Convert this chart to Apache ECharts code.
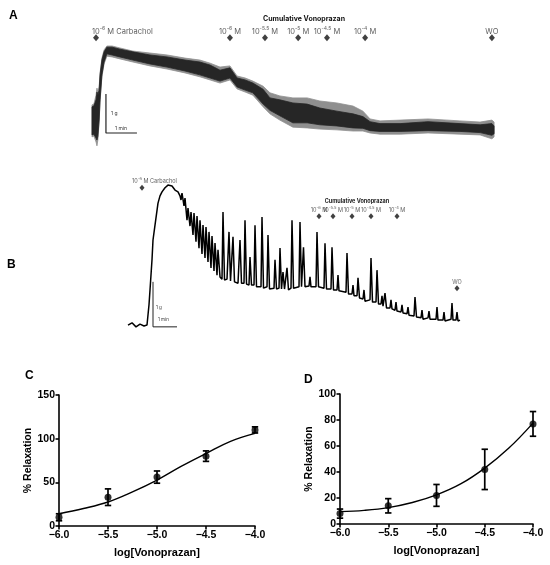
<!DOCTYPE html>
<html><head><meta charset="utf-8">
<script src="https://cdn.jsdelivr.net/npm/echarts@6/dist/echarts.min.js"></script>
<style>html,body{margin:0;padding:0;background:#fff}#c{width:550px;height:565px}</style>
</head><body><div id="c"></div>
<script>
// ---------- Panel A: force trace envelope (time in min, force in g) ----------
const aTime   = [0,0.06,0.13,0.16,0.19,0.23,0.26,0.32,0.39,0.48,0.65,0.90,1.32,1.87,2.42,3.00,3.48,3.81,4.13,4.45,4.68,4.94,5.19,5.52,5.74,6.06,6.48,6.94,7.35,7.90,8.42,8.74,8.97,9.29,9.94,10.84,11.87,12.52,12.90,12.97];
const aDarkHi = [0.85,0.87,1.03,1.23,1.15,1.28,1.67,2.05,2.26,2.38,2.38,2.33,2.26,2.18,2.13,2.05,2.00,1.92,1.79,1.85,1.59,1.54,1.46,1.30,1.08,1.03,0.95,0.92,0.82,0.74,0.67,0.60,0.47,0.42,0.42,0.47,0.42,0.39,0.42,0.36];
const aDarkLo = [0.13,0.15,0.05,0.00,0.10,0.51,1.03,1.67,2.00,2.21,2.18,2.13,2.05,1.95,1.87,1.77,1.67,1.59,1.51,1.59,1.36,1.28,1.21,0.92,0.76,0.62,0.44,0.44,0.39,0.36,0.31,0.30,0.24,0.22,0.22,0.24,0.22,0.19,0.12,0.16];
const aGrayHi = [0.90,0.92,1.15,1.33,1.23,1.36,1.72,2.10,2.31,2.41,2.41,2.36,2.28,2.23,2.18,2.10,2.05,1.97,1.87,1.90,1.64,1.59,1.51,1.38,1.21,1.13,1.08,1.08,1.00,0.95,0.87,0.74,0.54,0.49,0.51,0.54,0.49,0.46,0.51,0.46];
const aGrayLo = [0.08,0.10,-0.05,-0.15,0.00,0.46,0.97,1.62,1.95,2.15,2.13,2.08,2.00,1.90,1.82,1.72,1.62,1.54,1.46,1.54,1.31,1.23,1.15,0.85,0.67,0.51,0.33,0.31,0.28,0.26,0.23,0.23,0.18,0.15,0.15,0.18,0.15,0.13,0.03,0.08];
const aDoseTime  = [0.13,4.45,5.58,6.65,7.58,8.81,12.90];
const aDoseLevel = [2.62,2.62,2.62,2.62,2.62,2.62,2.62];
const aDoseExp   = ['-6','-6','-5.5','-5','-4.5','-4',''];
const aDoseName  = ['Carbachol','','','','','','WO'];
const aScaleT = [0.45,0.45,1.45];
const aScaleG = [1.18,0.18,0.18];

// ---------- Panel B: force trace (time in s, force in g) ----------
const bTime = [0,10,20,30,40,47.5,52.5,55,60,62.5,67.5,75,80,85,92.5,100,105,110,117.5,125,130,132.5,135,140,142.5,147.5,150,155,157.5,162.5,165,170,172.5,177.5,180,185,187.5,192.5,195,200,202.5,207.5,210,215,217.5,222.5,225,230,235,237.5,241.25,247.5,252.5,256.25,260,262.5,266.25,275,280,283.75,290,292.5,296.25,302.5,305,308.75,315,317.5,321.25,332.5,335,338.75,347.5,350,353.75,365,367.5,371.25,377.5,380,383.75,387.5,391.25,395,397.5,401.25,407.5,410,413.75,427.5,430,433.75,436.25,438.75,442.5,452.5,455,457.5,470,472.5,476.25,490,492.5,496.25,507.5,510,513.75,522.5,525,527.5,545,547.5,551.25,560,562.5,565,572.5,575,578.75,587.5,590,592.5,605,607.5,611.25,620,622.5,626.25,632.5,635,637.5,640,642.5,646.25,655,657.5,660,667.5,670,672.5,682.5,685,687.5,697.5,700,702.5,715,717.5,721.25,732.5,735,737.5,750,752.5,755,770,772.5,775,787.5,790,792.5,807.5,810,812.5,820,822.5,825,830];
const bForce = [0.11,0.16,0.07,0.13,0.09,0.11,0.56,0.89,1.56,2.00,2.33,2.82,2.98,3.07,3.16,3.22,3.18,3.20,3.11,3.07,2.98,2.89,3.04,2.76,2.93,2.44,2.71,2.31,2.62,2.11,2.60,1.96,2.53,1.82,2.44,1.69,2.33,1.60,2.29,1.51,2.18,1.38,2.09,1.31,1.93,1.22,1.78,1.18,1.13,2.62,1.11,1.13,2.18,1.09,1.09,2.07,1.07,1.04,2.00,1.04,1.04,2.44,1.02,1.00,1.62,1.00,1.00,2.33,0.96,0.96,2.51,0.93,0.96,2.11,0.91,0.93,1.56,0.91,0.93,1.82,0.91,1.29,0.91,0.91,1.38,0.89,0.93,2.44,0.93,0.96,2.40,0.96,0.98,1.84,0.96,0.98,1.18,0.96,0.96,2.18,0.96,0.93,1.93,0.91,0.91,1.84,0.89,0.89,1.22,0.87,0.84,1.71,0.80,0.80,1.00,0.76,0.76,1.16,0.71,0.69,0.89,0.64,0.67,1.60,0.62,0.62,1.33,0.58,0.58,0.76,0.53,0.53,0.82,0.49,0.49,0.67,0.47,0.44,0.62,0.42,0.40,0.56,0.38,0.36,0.51,0.33,0.31,0.73,0.29,0.27,0.44,0.24,0.27,0.42,0.24,0.24,0.51,0.22,0.22,0.40,0.20,0.24,0.60,0.22,0.22,0.40,0.20,0.22];
const bDoseTime  = [35,477.5,512.5,560,607.5,672.5,822.5];
const bDoseLevel = [3.16,2.53,2.53,2.53,2.53,2.53,0.93];
const bDoseExp   = ['-6','-6','-5.5','-5','-4.5','-4',''];
const bDoseName  = ['Carbachol','','','','','','WO'];
const bScaleT = [62.5,62.5,122.5];
const bScaleG = [1.07,0.07,0.07];

// ---------- Panels C & D: concentration-response ----------
const logConc = [-6,-5.5,-5,-4.5,-4];
const cMean = [10,33,56,80,110];
const cSem  = [4,9.5,7,6,3.5];
const dMean = [8,14,22,42,77];
const dSem  = [3.5,5.5,8.4,15.5,9.5];
const fitX  = [-6,-5.75,-5.5,-5.25,-5,-4.75,-4.5,-4.25,-4];
const cFit  = [14,20,27.5,39,52.5,68.5,83,97,106];
const dFit  = [9.5,10.5,12.6,16.5,22.4,30.8,43,58.4,77.6];

// ---------- helpers ----------
const TF = 'Inter, "Noto Sans", sans-serif';
const AF = '"Liberation Sans", Arial, sans-serif';
function doseText(exp, name){
  if (!exp) return '{n|' + name + '}';
  return '{n|10}{s|' + exp + '}{n| M' + (name ? ' ' + name : '') + '}';
}
function bandSeries(hi, lo, color){
  return {
    type:'custom', xAxisIndex:0, yAxisIndex:0, silent:true,
    data: aTime.map((t,i)=>[t, hi[i], lo[i]]),
    encode:{x:0, y:[1,2]},
    renderItem:function(params, api){
      if (params.dataIndex !== 0) return null;
      const pts = [];
      for (let i=0;i<aTime.length;i++) pts.push(api.coord([aTime[i], hi[i]]));
      for (let i=aTime.length-1;i>=0;i--) pts.push(api.coord([aTime[i], lo[i]]));
      return {type:'polygon', shape:{points:pts}, style:{fill:color, stroke:color, lineWidth:0.8}};
    }
  };
}
function errSeries(xi, mean, sem){
  return {
    type:'custom', xAxisIndex:xi, yAxisIndex:xi, silent:true, clip:false, z:3,
    data: logConc.map((x,i)=>[x, mean[i], sem[i]]),
    renderItem:function(params, api){
      const x = api.value(0), m = api.value(1), e = api.value(2);
      const t = api.coord([x, m+e]), b = api.coord([x, m-e]);
      const w = 3.2, st = {stroke:'#000', lineWidth:1.7};
      return {type:'group', children:[
        {type:'line', shape:{x1:t[0],y1:t[1],x2:b[0],y2:b[1]}, style:st},
        {type:'line', shape:{x1:t[0]-w,y1:t[1],x2:t[0]+w,y2:t[1]}, style:st},
        {type:'line', shape:{x1:b[0]-w,y1:b[1],x2:b[0]+w,y2:b[1]}, style:st}
      ]};
    }
  };
}
function doseSeries(xi, times, levels, exps, names, fs, ss, lift, firstLeft, symSize){
  return {
    type:'scatter', xAxisIndex:xi, yAxisIndex:xi, silent:true,
    symbol:'diamond', symbolSize: symSize,
    itemStyle:{color:'#111'},
    data: times.map((t,i)=> i === 0
      ? {value:[t, levels[i]], label:{align:'left', offset:[-firstLeft, -lift]}}
      : {value:[t, levels[i]]}),
    label:{
      show:true, position:'inside', offset:[0, -lift], align:'center', verticalAlign:'middle',
      formatter: p => doseText(exps[p.dataIndex], names[p.dataIndex]),
      rich:{
        n:{fontFamily:TF, fontSize:fs, color:'#333', lineHeight:fs+2, verticalAlign:'bottom'},
        s:{fontFamily:TF, fontSize:ss, color:'#333', lineHeight:ss+1, verticalAlign:'top'}
      }
    }
  };
}
function respAxisX(gi){
  return {
    gridIndex:gi, type:'value', min:-6, max:-4, interval:0.5,
    name:'log[Vonoprazan]', nameLocation:'middle', nameGap:21,
    nameTextStyle:{fontFamily:AF, fontWeight:'bold', fontSize:11, color:'#000'},
    axisLine:{lineStyle:{color:'#000', width:1.6}},
    axisTick:{length:3.5, lineStyle:{color:'#000', width:1.6}},
    axisLabel:{fontFamily:AF, fontWeight:'bold', fontSize:10.5, color:'#000', margin:4,
      formatter:v => v.toFixed(1).replace('-', '\u2212')},
    splitLine:{show:false}
  };
}
function respAxisY(gi, max, interval){
  return {
    gridIndex:gi, type:'value', min:0, max:max, interval:interval,
    name:'% Relaxation', nameLocation:'middle', nameGap:24,
    nameTextStyle:{fontFamily:AF, fontWeight:'bold', fontSize:10.5, color:'#000'},
    axisLine:{show:true, lineStyle:{color:'#000', width:1.6}},
    axisTick:{show:true, length:3.5, lineStyle:{color:'#000', width:1.6}},
    axisLabel:{fontFamily:AF, fontWeight:'bold', fontSize:10.5, color:'#000', margin:4},
    splitLine:{show:false}
  };
}

const chart = echarts.init(document.getElementById('c'), null, {renderer:'canvas'});
chart.setOption({
  animation:false,
  backgroundColor:'#fff',
  grid:[
    {left:92, top:23, width:403, height:136.5},
    {left:128, top:168, width:336, height:171},
    {left:59, top:395, width:196, height:131},
    {left:340, top:394, width:193, height:130}
  ],
  xAxis:[
    {gridIndex:0, type:'value', min:0, max:13, show:false},
    {gridIndex:1, type:'value', min:0, max:840, show:false},
    respAxisX(2), respAxisX(3)
  ],
  yAxis:[
    {gridIndex:0, type:'value', min:-0.5, max:3, show:false},
    {gridIndex:1, type:'value', min:-0.2, max:3.6, show:false},
    respAxisY(2, 150, 50), respAxisY(3, 100, 20)
  ],
  graphic:[
    {type:'text', left:9, top:10, style:{text:'A', fontFamily:AF, fontWeight:'bold', fontSize:12, fill:'#000'}},
    {type:'text', left:7, top:259, style:{text:'B', fontFamily:AF, fontWeight:'bold', fontSize:12, fill:'#000'}},
    {type:'text', left:25, top:370, style:{text:'C', fontFamily:AF, fontWeight:'bold', fontSize:12, fill:'#000'}},
    {type:'text', left:304, top:374, style:{text:'D', fontFamily:AF, fontWeight:'bold', fontSize:12, fill:'#000'}},
    {type:'text', x:304, y:19, style:{text:'Cumulative Vonoprazan', fontFamily:TF, fontWeight:'bold', fontSize:7, fill:'#111', align:'center', verticalAlign:'middle'}},
    {type:'text', x:357, y:201, style:{text:'Cumulative Vonoprazan', fontFamily:TF, fontWeight:'bold', fontSize:5.5, fill:'#222', align:'center', verticalAlign:'middle'}},
    {type:'text', x:111, y:113, style:{text:'1 g', fontFamily:TF, fontSize:5, fill:'#333', verticalAlign:'middle'}},
    {type:'text', x:115, y:128, style:{text:'1 min', fontFamily:TF, fontSize:5, fill:'#333', verticalAlign:'middle'}},
    {type:'text', x:156, y:308, style:{text:'1 g', fontFamily:TF, fontSize:4.5, fill:'#333', verticalAlign:'middle'}},
    {type:'text', x:158, y:320, style:{text:'1 min', fontFamily:TF, fontSize:4.5, fill:'#333', verticalAlign:'middle'}}
  ],
  series:[
    bandSeries(aGrayHi,aGrayLo,'#8f8f8f'),
    bandSeries(aDarkHi,aDarkLo,'#262626'),
    {type:'line', xAxisIndex:0, yAxisIndex:0, silent:true, symbol:'none',
      data:aScaleT.map((t,i)=>[t,aScaleG[i]]), lineStyle:{color:'#222', width:1.2}},
    doseSeries(0, aDoseTime, aDoseLevel, aDoseExp, aDoseName, 7.5, 5, 7, 4, [6,7]),
    {type:'line', xAxisIndex:1, yAxisIndex:1, silent:true, symbol:'none',
      data:bTime.map((t,i)=>[t,bForce[i]]), lineStyle:{color:'#000', width:1.5}},
    {type:'line', xAxisIndex:1, yAxisIndex:1, silent:true, symbol:'none',
      data:bScaleT.map((t,i)=>[t,bScaleG[i]]), lineStyle:{color:'#222', width:1}},
    doseSeries(1, bDoseTime, bDoseLevel, bDoseExp, bDoseName, 5.5, 4, 7, 10, [5,6]),
    {type:'line', xAxisIndex:2, yAxisIndex:2, silent:true, symbol:'none', smooth:0.4,
      data:fitX.map((x,i)=>[x,cFit[i]]), lineStyle:{color:'#000', width:1.4}},
    errSeries(2, cMean, cSem),
    {type:'scatter', xAxisIndex:2, yAxisIndex:2, silent:true, symbolSize:7, clip:false, z:4,
      itemStyle:{color:'#000'}, data:logConc.map((x,i)=>[x,cMean[i]])},
    {type:'line', xAxisIndex:3, yAxisIndex:3, silent:true, symbol:'none', smooth:0.4,
      data:fitX.map((x,i)=>[x,dFit[i]]), lineStyle:{color:'#000', width:1.4}},
    errSeries(3, dMean, dSem),
    {type:'scatter', xAxisIndex:3, yAxisIndex:3, silent:true, symbolSize:7, clip:false, z:4,
      itemStyle:{color:'#000'}, data:logConc.map((x,i)=>[x,dMean[i]])}
  ]
});
</script></body></html>
